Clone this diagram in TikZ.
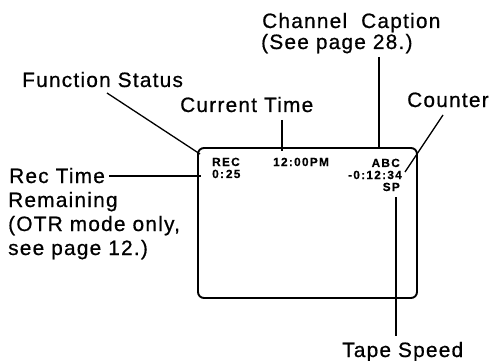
\documentclass[tikz,border=0pt]{standalone}
\usepackage{fontspec}
\setmainfont{Liberation Sans}
\newfontfamily\lblfont[LetterSpace=6,FakeBold=0.7]{Liberation Sans}
\newfontfamily\scrfont[LetterSpace=11,FakeBold=0.5]{Liberation Sans}
\begin{document}
\begin{tikzpicture}[x=1pt,y=1pt,
  lbl/.style={inner sep=0pt, font=\lblfont\fontsize{20.8}{24}\selectfont},
  scr/.style={inner sep=0pt, font=\scrfont\bfseries\fontsize{11.8}{12}\selectfont},
  lead/.style={line width=1.3pt},
  screenbox/.style={line width=1.9pt, rounded corners=6pt}]
\useasboundingbox (0,0) rectangle (496,-361);
% screen
\draw[screenbox] (198,-148) rectangle (417,-298);
\node[scr, anchor=base west] (rec) at (212,-166) {REC};
\node[scr, anchor=base west] (time) at (273,-166) {12:00PM};
\node[scr, anchor=base east] (abc) at (400,-167) {ABC};
\node[scr, anchor=base west] (remain) at (212,-178) {0:\,25};
\node[scr, anchor=base east] (count) at (402,-179) {-0:12:34};
\node[scr, anchor=base east] (sp) at (400,-191) {SP};
% labels
\node[lbl, anchor=base west] (cc1) at (262,-28) {Channel\ \ Caption};
\node[lbl, anchor=base west] (cc2) at (261,-49) {(See page 28.)};
\node[lbl, anchor=base west] (fs) at (22,-87) {Function Status};
\node[lbl, anchor=base west] (ct) at (180,-112) {Current Time};
\node[lbl, anchor=base west] (co) at (407,-107) {Counter};
\node[lbl, anchor=base west] (rt1) at (9,-183) {Rec Time};
\node[lbl, anchor=base west] (rt2) at (8,-207) {Remaining};
\node[lbl, anchor=base west] (rt3) at (8,-231) {(OTR mode only,};
\node[lbl, anchor=base west] (rt4) at (8,-255) {see page 12.)};
\node[lbl, anchor=base west] (ts) at (342,-357) {Tape Speed};
% leader ends
\coordinate (ccA) at (379,-57);
\coordinate (ccB) at (379,-149);
\coordinate (fsA) at (107,-93);
\coordinate (fsB) at (200,-154);
\coordinate (ctA) at (282,-120);
\coordinate (ctB) at (282,-151);
\coordinate (coA) at (443,-115);
\coordinate (coB) at (405,-172);
\coordinate (rtA) at (109,-176);
\coordinate (rtB) at (201,-176);
\coordinate (tsA) at (396,-197);
\coordinate (tsB) at (396,-336);
\draw[lead] (ccA) -- (ccB);
\draw[lead] (fsA) -- (fsB);
\draw[lead] (ctA) -- (ctB);
\draw[lead] (coA) -- (coB);
\draw[lead] (rtA) -- (rtB);
\draw[lead] (tsA) -- (tsB);
\end{tikzpicture}
\end{document}
